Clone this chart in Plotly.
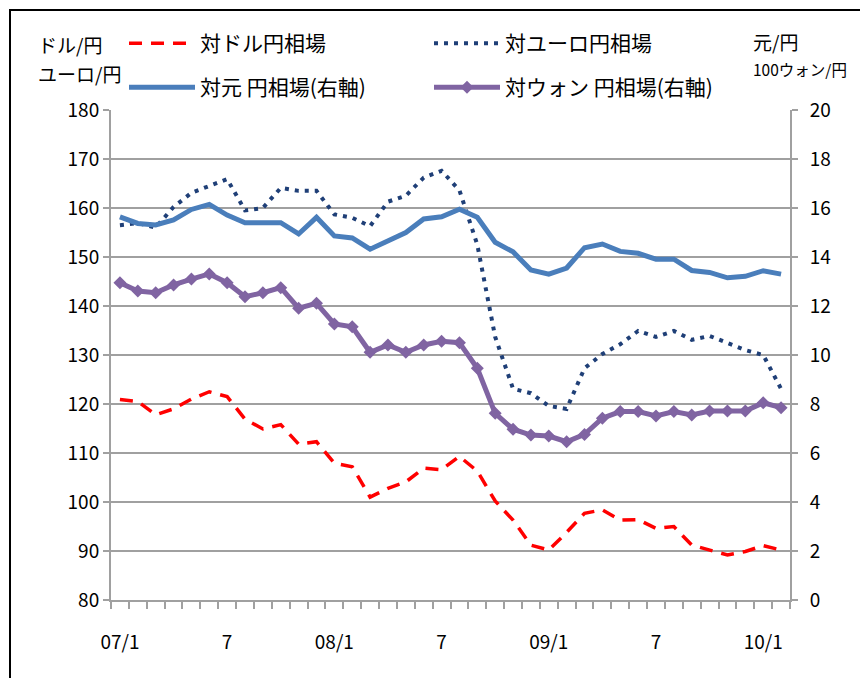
import plotly.graph_objects as go

# Months Jan 2007 .. Feb 2010
months = [f"{y}-{m:02d}" for y in (2007, 2008, 2009) for m in range(1, 13)] + ["2010-01", "2010-02"]
tick_idx = [0, 6, 12, 18, 24, 30, 36]
tick_text = ["07/1", "7", "08/1", "7", "09/1", "7", "10/1"]

usd = [120.9, 120.5, 117.8, 119.0, 121.0, 122.5, 121.5, 116.9, 114.9, 115.8,
       111.8, 112.3, 107.9, 107.2, 101.0, 102.8, 104.1, 106.9, 106.6, 109.3,
       106.3, 100.2, 96.3, 91.2, 90.2, 93.8, 97.7, 98.4, 96.3, 96.4,
       94.6, 95.0, 91.2, 90.2, 89.2, 89.9, 91.1, 90.2]
eur = [156.5, 156.9, 156.0, 160.2, 163.1, 164.5, 165.9, 159.5, 160.0, 164.1,
       163.5, 163.5, 158.7, 158.0, 156.3, 161.3, 162.5, 166.2, 167.6, 163.6,
       152.5, 133.7, 123.1, 122.2, 119.6, 119.0, 127.3, 130.2, 132.2, 134.9,
       133.7, 134.9, 133.1, 133.9, 132.4, 131.0, 130.0, 123.1]
cny = [15.64, 15.37, 15.31, 15.51, 15.94, 16.15, 15.71, 15.40, 15.40, 15.40,
       14.94, 15.62, 14.86, 14.78, 14.32, 14.67, 15.00, 15.55, 15.64, 15.95,
       15.62, 14.60, 14.21, 13.47, 13.30, 13.55, 14.38, 14.53, 14.23, 14.15,
       13.91, 13.91, 13.45, 13.37, 13.15, 13.21, 13.44, 13.30]
krw = [12.95, 12.61, 12.54, 12.86, 13.10, 13.31, 12.95, 12.38, 12.54, 12.75,
       11.91, 12.11, 11.27, 11.15, 10.11, 10.41, 10.11, 10.41, 10.56, 10.50,
       9.46, 7.62, 6.97, 6.73, 6.69, 6.46, 6.76, 7.42, 7.69, 7.69,
       7.51, 7.69, 7.55, 7.71, 7.71, 7.71, 8.05, 7.85]

x = list(range(len(months)))
FONT = "Noto Sans CJK JP"
GRID = "#a0a0a0"

fig = go.Figure()
fig.add_trace(go.Scatter(x=x, y=usd, name="対ドル円相場", mode="lines",
                         line=dict(color="#ff0000", width=3.5, dash="13px,9px"),
                         legend="legend"))
fig.add_trace(go.Scatter(x=x, y=eur, name="対ユーロ円相場", mode="lines",
                         line=dict(color="#1f3f77", width=4, dash="4px,6px"),
                         legend="legend"))
fig.add_trace(go.Scatter(x=x, y=cny, name="対元 円相場(右軸)", mode="lines", yaxis="y2",
                         line=dict(color="#4a7ebb", width=5),
                         legend="legend2"))
fig.add_trace(go.Scatter(x=x, y=krw, name="対ウォン 円相場(右軸)", mode="lines+markers", yaxis="y2",
                         line=dict(color="#8064a2", width=5),
                         marker=dict(symbol="diamond", size=10, color="#8064a2"),
                         legend="legend2"))

OFF = 8  # page body margin
W, H = 868 - OFF, 678 - OFF
L, R, T, B = 111, 790, 110, 600   # plot area in page pixels
def px(xp):
    return (xp - L) / (R - L)
def py(yp):
    return (B - yp) / (B - T)

leg_common = dict(orientation="h", xanchor="left", yanchor="top",
                  entrywidth=224, entrywidthmode="pixels", itemwidth=66,
                  font=dict(size=21), bgcolor="rgba(0,0,0,0)")

fig.update_layout(
    width=W, height=H,
    margin=dict(l=L - OFF, r=W - (R - OFF), t=T - OFF, b=H - (B - OFF)),
    paper_bgcolor="white", plot_bgcolor="white",
    font=dict(family=FONT, size=19, color="black"),
    xaxis=dict(range=[-0.5, len(months) - 0.5], tickmode="array", tickvals=tick_idx,
               ticktext=tick_text, ticks="", showgrid=False, showline=True,
               linecolor=GRID, linewidth=2, zeroline=False,
               tickfont=dict(size=19), ticklabelstandoff=24,
               minor=dict(tickmode="linear", tick0=-0.5, dtick=1, ticks="outside",
                          ticklen=7, tickwidth=1.5, tickcolor=GRID, showgrid=False)),
    yaxis=dict(range=[80, 180], dtick=10, showgrid=True, gridcolor=GRID, gridwidth=2,
               showline=True, linecolor=GRID, linewidth=2, zeroline=False,
               ticks="outside", ticklen=6, tickcolor=GRID, tickwidth=1.5,
               tickfont=dict(size=19)),
    yaxis2=dict(range=[0, 20], dtick=2, overlaying="y", side="right", showgrid=False,
                showline=True, linecolor=GRID, linewidth=2, zeroline=False,
                ticks="outside", ticklen=6, tickcolor=GRID, tickwidth=1.5,
                tickfont=dict(size=19), ticklabelstandoff=8),
    legend=dict(x=px(124), y=py(23), **leg_common),
    legend2=dict(x=px(124), y=py(67), **leg_common),
    showlegend=True,
)

annos = [
    ("ドル/円", 36, 45, 19),
    ("ユーロ/円", 36, 73, 19),
    ("元/円", 751, 42, 19),
    ("100ウォン/円", 751, 69, 15.5),
]
for txt, ax, ay, sz in annos:
    fig.add_annotation(text=txt, xref="paper", yref="paper", x=px(ax), y=py(ay),
                       xanchor="left", yanchor="middle", showarrow=False,
                       font=dict(size=sz, family=FONT))

fig.add_shape(type="rect", xref="paper", yref="paper",
              x0=px(10), x1=px(880), y0=py(690), y1=py(10),
              line=dict(color="black", width=2), fillcolor="rgba(0,0,0,0)")

fig.write_html("out.html")
